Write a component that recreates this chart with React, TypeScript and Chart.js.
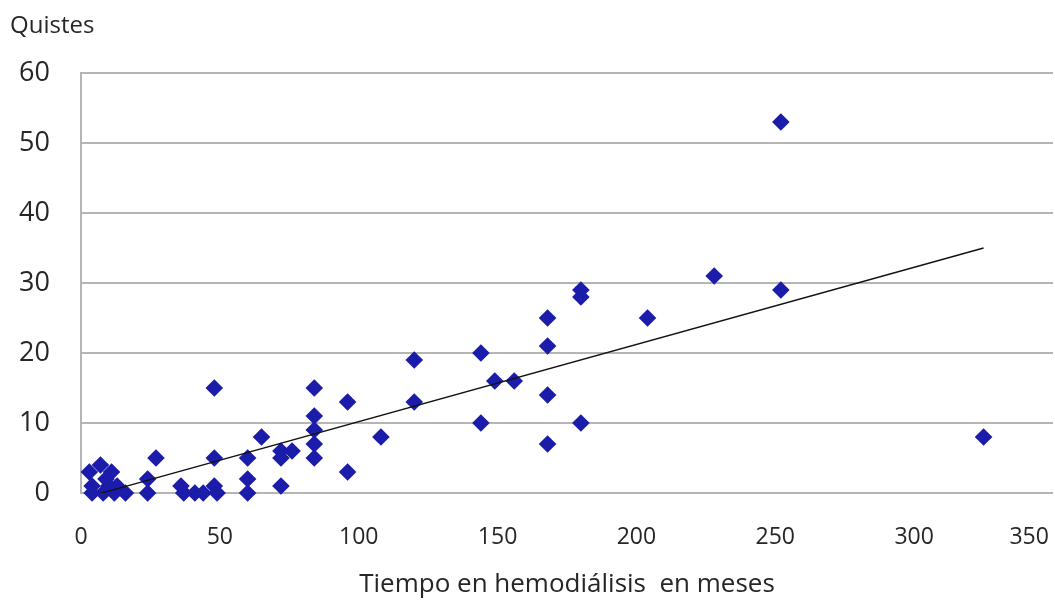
import { useEffect, useRef } from 'react';
import { Chart, registerables } from 'chart.js';

Chart.register(...registerables);

// Tiempo en hemodiálisis (meses) y número de quistes
const tiempoMeses = [
  3, 7, 11, 9, 4, 4, 8, 10, 12, 13, 16,
  24, 24, 27, 36, 37, 41, 44, 48, 48, 49, 48,
  60, 60, 60, 65, 72, 76, 72, 72,
  84, 84, 84, 84, 84, 96, 96, 108, 120, 120,
  144, 144, 149, 156, 168, 168, 168, 168,
  180, 180, 180, 204, 228, 252, 252, 325,
];
const quistes = [
  3, 4, 3, 2, 1, 0, 0, 1, 0, 1, 0,
  2, 0, 5, 1, 0, 0, 0, 5, 1, 0, 15,
  5, 2, 0, 8, 6, 6, 5, 1,
  15, 11, 9, 7, 5, 13, 3, 8, 19, 13,
  20, 10, 16, 16, 25, 21, 14, 7,
  29, 28, 10, 25, 31, 53, 29, 8,
];

// Extremos de la línea de tendencia lineal
const tendenciaX = [3, 325];
const tendenciaY = [-0.5, 35.0];

const yTitulo = 'Quistes';
const xTitulo = 'Tiempo en hemodiálisis  en meses';

const FONT = "'Open Sans', 'Noto Sans', sans-serif";
const TEXT = '#262626';
const GRID = '#b5b5b5';
const MARK = '#1c1cab';

export default function App() {
  const ref = useRef<HTMLCanvasElement | null>(null);

  useEffect(() => {
    if (!ref.current) return;
    const puntos = tiempoMeses.map((x, i) => ({ x, y: quistes[i] }));
    const tendencia = tendenciaX.map((x, i) => ({ x, y: tendenciaY[i] }));

    const chart = new Chart(ref.current, {
      type: 'scatter',
      data: {
        datasets: [
          {
            type: 'line',
            data: tendencia,
            borderColor: '#111111',
            borderWidth: 1.3,
            pointRadius: 0,
            fill: false,
            tension: 0,
            order: 0,
          } as any,
          {
            type: 'scatter',
            data: puntos,
            pointStyle: 'rectRot',
            pointRadius: 8.8,
            pointHoverRadius: 8.8,
            backgroundColor: MARK,
            borderColor: MARK,
            borderWidth: 0,
            clip: false,
            order: 1,
          } as any,
        ],
      },
      options: {
        responsive: false,
        animation: false,
        events: [],
        layout: { autoPadding: false, padding: { left: 10, right: 2, top: 0, bottom: 0 } },
        plugins: {
          legend: { display: false },
          tooltip: { enabled: false },
          title: {
            display: true,
            text: yTitulo,
            align: 'start',
            color: TEXT,
            font: { family: FONT, size: 24, weight: 'normal' },
            padding: { top: 12, bottom: 32.2 },
          },
        },
        scales: {
          x: {
            type: 'linear',
            min: 0,
            max: 350,
            grid: { display: false, drawTicks: false },
            border: { display: false },
            ticks: {
              stepSize: 50,
              autoSkip: false,
              maxRotation: 0,
              padding: 31,
              color: TEXT,
              font: { family: FONT, size: 23 },
              callback: (v: any) => (Number(v) === 350 ? '350        ' : String(v)),
            },
            title: {
              display: true,
              text: xTitulo,
              color: TEXT,
              font: { family: FONT, size: 26 },
              padding: { top: 0, bottom: 3 },
            },
            afterFit: (s: any) => {
              s.height = 110;
              s.paddingLeft = 0;
              s.paddingRight = 0;
            },
          },
          y: {
            type: 'linear',
            min: 0,
            max: 60,
            grid: { color: GRID, lineWidth: 2, drawTicks: false },
            border: { display: true, color: GRID, width: 2 },
            ticks: {
              stepSize: 10,
              padding: 31,
              color: TEXT,
              font: { family: FONT, size: 27 },
            },
            afterFit: (s: any) => {
              s.width = 71;
              s.paddingTop = 0;
              s.paddingBottom = 0;
            },
          },
        },
      },
    });
    return () => chart.destroy();
  }, []);

  return (
    <div style={{ position: 'fixed', left: 0, top: 0, width: 1055, height: 603, background: '#ffffff' }}>
      <canvas ref={ref} width={1055} height={603} style={{ width: 1055, height: 603, display: 'block' }} />
    </div>
  );
}
